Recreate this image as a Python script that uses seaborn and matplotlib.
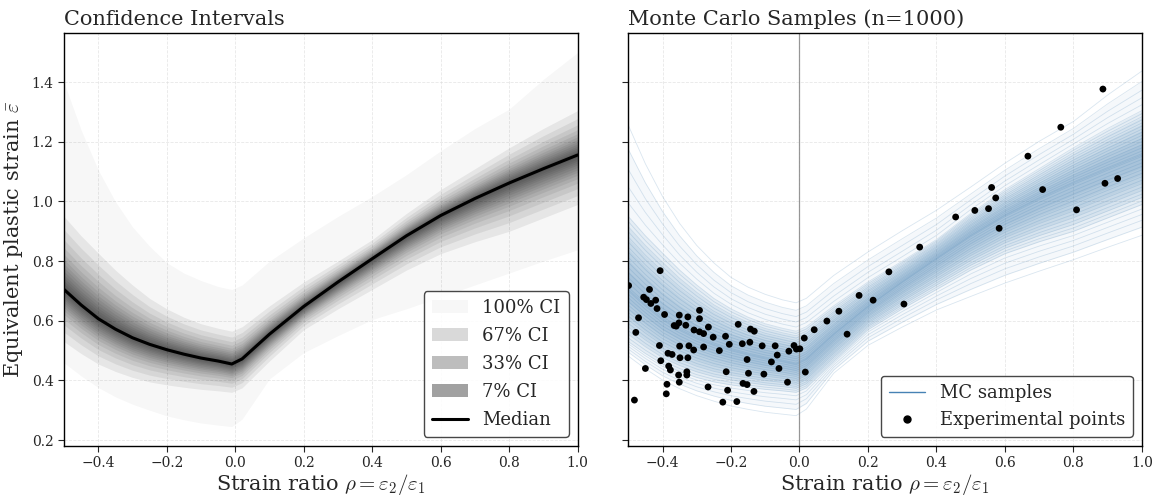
#Forming limit scatter: confidence bands + Monte Carlo samples
import numpy as np
import pandas as pd
import matplotlib
matplotlib.use("Agg")
import matplotlib.pyplot as plt
from matplotlib.patches import Patch
from matplotlib.lines import Line2D
import seaborn as sns

# values
strain_ratio = [-0.5, -0.45, -0.4, -0.35, -0.3, -0.25, -0.2, -0.15, -0.1, -0.05, -0.01, 0.02,
                0.1, 0.2, 0.3, 0.4, 0.5, 0.6, 0.7, 0.8, 0.9, 1.0]
median_strain = [0.705, 0.653, 0.607, 0.572, 0.543, 0.521, 0.503, 0.488, 0.475, 0.465, 0.455, 0.472,
                 0.555, 0.648, 0.730, 0.808, 0.885, 0.953, 1.010, 1.062, 1.110, 1.156]
ci100_upper = [1.400, 1.240, 1.106, 1.000, 0.915, 0.850, 0.795, 0.760, 0.735, 0.715, 0.705, 0.720,
               0.800, 0.878, 0.950, 1.017, 1.090, 1.170, 1.245, 1.310, 1.410, 1.500]
ci100_lower = [0.459, 0.415, 0.376, 0.345, 0.320, 0.300, 0.281, 0.268, 0.257, 0.250, 0.245, 0.270,
               0.405, 0.493, 0.550, 0.604, 0.640, 0.680, 0.720, 0.760, 0.800, 0.838]
ci93_upper = [0.950, 0.885, 0.827, 0.770, 0.720, 0.675, 0.640, 0.612, 0.590, 0.575, 0.565, 0.580,
              0.650, 0.730, 0.800, 0.872, 0.960, 1.040, 1.110, 1.180, 1.245, 1.305]
ci93_lower = [0.530, 0.490, 0.455, 0.430, 0.410, 0.395, 0.385, 0.377, 0.370, 0.365, 0.360, 0.375,
              0.465, 0.570, 0.640, 0.705, 0.770, 0.825, 0.865, 0.900, 0.945, 0.990]

# inner CI levels, width relative to the 93% band
ci_levels = [93, 87, 80, 73, 67, 60, 53, 47, 40, 33, 27, 20, 13, 7]
ci_width = [1.0, 0.82, 0.68, 0.57, 0.48, 0.41, 0.35, 0.30, 0.25, 0.20, 0.16, 0.12, 0.08, 0.04]
legend_levels = ["100% CI", "67% CI", "33% CI", "7% CI"]
legend_greys = ["#f7f7f7", "#d9d9d9", "#bdbdbd", "#a1a1a1"]
# MC panel: line positions inside the 93% band, and beyond it (share towards 100% edge)
mc_width = [1.0, 0.93, 0.86, 0.79, 0.72, 0.65, 0.58, 0.51, 0.44, 0.37, 0.30, 0.23, 0.16, 0.09, 0.03]
outer_mix = [0.1, 0.22, 0.35, 0.5, 0.68]
mc_shade = [1.0, 0.85, 0.7, 0.55, 0.4, 0.25]

exp_rho = [-0.407, -0.499, -0.438, -0.455, -0.447, -0.434, -0.420, -0.416, -0.394, -0.470,
           -0.351, -0.326, -0.292, -0.292, -0.366, -0.360, -0.352, -0.332, -0.308, -0.292,
           -0.280, -0.266, -0.252, -0.478, -0.409, -0.350, -0.323, -0.309, -0.280, -0.234,
           -0.384, -0.372, -0.349, -0.326, -0.405, -0.382, -0.377, -0.450, -0.353, -0.329,
           -0.329, -0.351, -0.387, -0.389, -0.267, -0.482,
           -0.179, -0.143, -0.132, -0.216, -0.205, -0.167, -0.145, -0.109, -0.071, -0.065,
           -0.031, -0.016, -0.009, 0.001, 0.014, 0.043, -0.153, -0.082, -0.060, -0.214,
           -0.149, -0.104, 0.017, -0.035, -0.165, -0.153, -0.210, -0.133, -0.224, -0.183,
           0.080, 0.115, 0.139, 0.174, 0.215, 0.261, 0.305, 0.351, 0.456, 0.512,
           0.552, 0.561, 0.573, 0.583, 0.667, 0.710, 0.763, 0.809, 0.886, 0.892, 0.929]
exp_strain = [0.768, 0.718, 0.705, 0.679, 0.671, 0.658, 0.669, 0.641, 0.621, 0.610,
              0.619, 0.613, 0.635, 0.607, 0.584, 0.582, 0.593, 0.585, 0.569, 0.563,
              0.557, 0.579, 0.545, 0.561, 0.517, 0.515, 0.516, 0.502, 0.512, 0.500,
              0.491, 0.487, 0.476, 0.476, 0.466, 0.448, 0.435, 0.440, 0.418, 0.429,
              0.418, 0.394, 0.387, 0.355, 0.378, 0.334,
              0.588, 0.572, 0.565, 0.548, 0.521, 0.523, 0.528, 0.516, 0.516, 0.485,
              0.498, 0.517, 0.505, 0.506, 0.542, 0.570, 0.470, 0.462, 0.440, 0.429,
              0.424, 0.421, 0.428, 0.394, 0.390, 0.386, 0.367, 0.363, 0.327, 0.329,
              0.599, 0.632, 0.555, 0.685, 0.669, 0.764, 0.656, 0.847, 0.948, 0.970,
              0.976, 1.047, 1.012, 0.910, 1.152, 1.040, 1.249, 0.972, 1.377, 1.061, 1.077]


def band(width):
    med = np.array(median_strain)
    up = med + width * (np.array(ci93_upper) - med)
    lo = med - width * (med - np.array(ci93_lower))
    return lo, up


def outer(mix):
    lo = np.array(ci93_lower) + mix * (np.array(ci100_lower) - np.array(ci93_lower))
    up = np.array(ci93_upper) + mix * (np.array(ci100_upper) - np.array(ci93_upper))
    return lo, up


def main():
    sns.set_style("white")
    plt.rcParams["font.family"] = ["DejaVu Serif"]
    plt.rcParams["mathtext.fontset"] = "cm"

    fig, (ax1, ax2) = plt.subplots(1, 2, figsize=(11.55, 4.97), dpi=100, sharey=True)
    fig.subplots_adjust(left=0.0554, right=0.9887, bottom=0.1026, top=0.9336, wspace=0.0985)

    # ---- left: confidence intervals
    ax1.fill_between(strain_ratio, ci100_lower, ci100_upper, color="k", alpha=0.03, lw=0)
    for w in ci_width:
        lo, up = band(w)
        ax1.fill_between(strain_ratio, lo, up, color="k", alpha=0.065, lw=0)
    sns.lineplot(x=strain_ratio, y=median_strain, color="k", lw=2.2, ax=ax1)

    handles = [Patch(facecolor=c, edgecolor="none", label=l) for c, l in zip(legend_greys, legend_levels)]
    handles.append(Line2D([0], [0], color="k", lw=2.2, label="Median"))
    ax1.legend(handles=handles, loc="lower right", fontsize=13, frameon=True,
               edgecolor="0.2", framealpha=0.9, fancybox=True, borderpad=0.45,
               handlelength=2.0, labelspacing=0.55)
    ax1.set_title("Confidence Intervals", loc="left", fontsize=15)

    # ---- right: MC sample curves + experiments
    curves = [np.array(median_strain)]
    for w in mc_width:
        lo, up = band(w)
        curves += [lo, up]
    for m in outer_mix:
        lo, up = outer(m)
        curves += [lo, up]
    rows = []
    for i, c in enumerate(curves):
        for x, y in zip(strain_ratio, c):
            rows.append((i, x, y))
    df = pd.DataFrame(rows, columns=["sample", "rho", "eps"])
    lo, up = outer(0.5)
    ax2.fill_between(strain_ratio, lo, up, color="steelblue", alpha=0.05, lw=0)
    for w in mc_shade:
        lo, up = band(w)
        ax2.fill_between(strain_ratio, lo, up, color="steelblue", alpha=0.09, lw=0)
    sns.lineplot(data=df, x="rho", y="eps", units="sample", estimator=None,
                 color="steelblue", alpha=0.2, lw=0.6, ax=ax2)
    ax2.axvline(0, color="gray", lw=0.9, alpha=0.8)
    sns.scatterplot(x=exp_rho, y=exp_strain, color="k", s=24, edgecolor="none", ax=ax2, zorder=5)

    handles2 = [Line2D([0], [0], color="steelblue", lw=1.0, label="MC samples"),
                Line2D([0], [0], color="k", marker="o", ls="none", markersize=5, label="Experimental points")]
    ax2.legend(handles=handles2, loc="lower right", fontsize=13, frameon=True,
               edgecolor="0.2", framealpha=0.9, fancybox=True, borderpad=0.45)
    ax2.set_title("Monte Carlo Samples (n=1000)", loc="left", fontsize=15)

    for ax in (ax1, ax2):
        ax.set_xlim(-0.5, 1.0)
        ax.set_xlabel(r"Strain ratio $\rho = \varepsilon_2/\varepsilon_1$", fontsize=15, labelpad=1)
        ax.set_ylabel(r"Equivalent plastic strain $\bar{\varepsilon}$", fontsize=15, labelpad=5)
        ax.grid(True, ls="--", lw=0.6, color="0.85", alpha=0.6)
        ax.tick_params(axis="both", direction="out", length=4, width=0.8, labelsize=10,
                       left=True, bottom=True)
        for s in ax.spines.values():
            s.set_color("k")
            s.set_linewidth(1.0)
    ax1.set_ylim(0.18, 1.565)
    ax1.set_yticks([0.2, 0.4, 0.6, 0.8, 1.0, 1.2, 1.4])
    ax2.tick_params(labelleft=False)

    fig.savefig("out.png", dpi=100)


if __name__ == "__main__":
    main()
